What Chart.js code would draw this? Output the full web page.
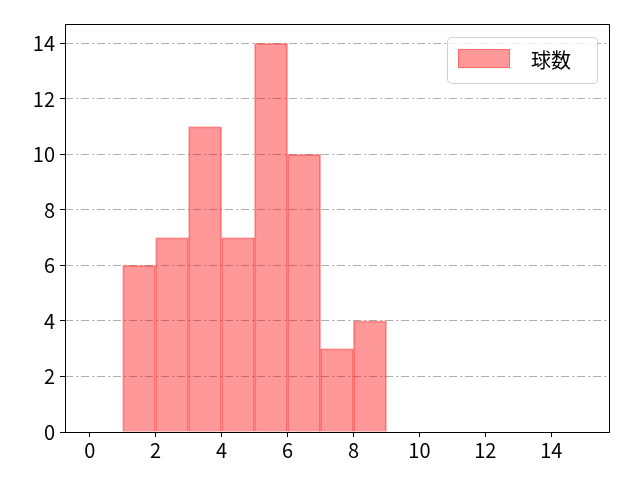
<!DOCTYPE html>
<html>
<head>
<meta charset="utf-8">
<script src="https://cdn.jsdelivr.net/npm/chart.js@4"></script>
<style>
  body { margin: 0; background: #fff; }
  #wrap { width: 640px; height: 480px; }
</style>
</head>
<body>
<div id="wrap"><canvas id="chart" width="640" height="480"></canvas></div>
<script>
const binStarts = [1, 2, 3, 4, 5, 6, 7, 8];
const counts = [6, 7, 11, 7, 14, 10, 3, 4];
const xTicks = [0, 2, 4, 6, 8, 10, 12, 14];
const yTicks = [0, 2, 4, 6, 8, 10, 12, 14];
const seriesName = "球数";

const FONT = "'Noto Sans CJK JP', 'Noto Sans', sans-serif";

// outer box + legend inside the plot
const framePlugin = {
  id: "frame",
  afterDraw(chart) {
    const ctx = chart.ctx;
    const a = chart.chartArea;
    ctx.save();
    ctx.strokeStyle = "#000";
    ctx.lineWidth = 1;
    ctx.strokeRect(a.left + 0.5, a.top + 0.5, a.right - a.left, a.bottom - a.top);

    // legend
    const lx = a.right - 162, ly = a.top + 13, lw = 150, lh = 46;
    ctx.fillStyle = "rgba(255,255,255,0.8)";
    ctx.strokeStyle = "#d0d0d0";
    ctx.beginPath();
    ctx.roundRect(lx + 0.5, ly + 0.5, lw, lh, 4);
    ctx.fill();
    ctx.stroke();
    ctx.fillStyle = "rgba(255,0,0,0.4)";
    ctx.fillRect(lx + 11, ly + 12, 52, 19);
    ctx.strokeStyle = "rgba(255,0,0,0.3)";
    ctx.strokeRect(lx + 11.5, ly + 12.5, 51, 18);
    ctx.fillStyle = "#000";
    ctx.font = "20px " + FONT;
    ctx.textBaseline = "middle";
    ctx.fillText(seriesName, lx + 84, ly + 23);
    ctx.restore();
  }
};

new Chart(document.getElementById("chart"), {
  type: "bar",
  data: {
    datasets: [{
      label: seriesName,
      data: binStarts.map((s, i) => ({ x: s + 0.5, y: counts[i] })),
      backgroundColor: "rgba(255,0,0,0.4)",
      borderColor: "rgba(255,0,0,0.3)",
      borderWidth: 1,
      inflateAmount: 0.5,
      barPercentage: 1,
      categoryPercentage: 1
    }]
  },
  options: {
    responsive: false,
    animation: false,
    layout: { padding: { top: 24, right: 31, left: 0, bottom: 0 } },
    plugins: {
      legend: { display: false },
      tooltip: { enabled: false }
    },
    scales: {
      x: {
        type: "linear",
        offset: false,
        min: -0.75,
        max: 15.75,
        afterBuildTicks: s => { s.ticks = xTicks.map(v => ({ value: v })); },
        afterFit: s => { s.height = 48; },
        grid: {
          offset: false,
          drawOnChartArea: false,
          drawTicks: true,
          tickLength: 5,
          tickColor: "#000"
        },
        border: { display: false },
        ticks: {
          color: "#000",
          font: { family: FONT, size: 20 },
          padding: 1,
          maxRotation: 0
        }
      },
      y: {
        min: 0,
        max: 14.7,
        afterBuildTicks: s => { s.ticks = yTicks.map(v => ({ value: v })); },
        afterFit: s => { s.width = 65; },
        grid: {
          color: "#b0b0b0",
          tickLength: 5,
          tickColor: "#000",
          tickBorderDash: []
        },
        border: { display: false, dash: [8, 3, 2, 3] },
        ticks: {
          color: "#000",
          font: { family: FONT, size: 20 },
          padding: 5
        }
      }
    }
  },
  plugins: [framePlugin]
});
</script>
</body>
</html>
